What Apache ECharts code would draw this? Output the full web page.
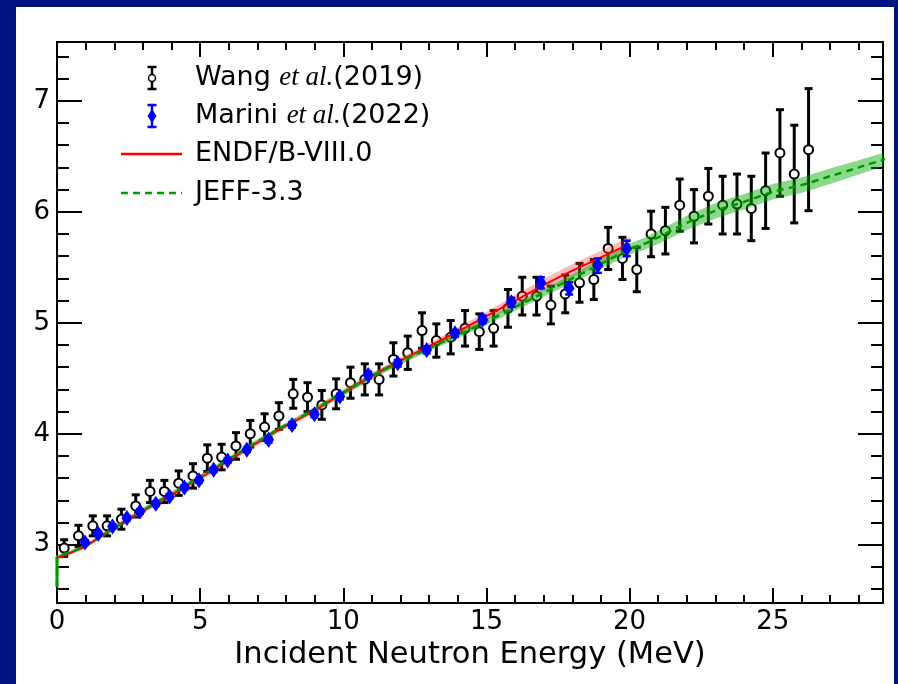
<!DOCTYPE html>
<html><head><meta charset="utf-8">
<script src="https://cdn.jsdelivr.net/npm/echarts@6/dist/echarts.min.js"></script>
<style>html,body{margin:0;padding:0;background:#00127f}#c{width:898px;height:684px}</style>
</head><body><div id="c"></div>
<script>
// ---- Data ----
var wangE = [0.25,0.75,1.25,1.75,2.25,2.75,3.25,3.75,4.25,4.75,5.25,5.75,6.25,6.75,7.25,7.75,8.25,8.75,9.25,9.75,10.25,10.75,11.25,11.75,12.25,12.75,13.25,13.75,14.25,14.75,15.25,15.75,16.25,16.75,17.25,17.75,18.25,18.75,19.25,19.75,20.25,20.75,21.25,21.75,22.25,22.75,23.25,23.75,24.25,24.75,25.25,25.75,26.25];
var wangV = [2.97,3.08,3.17,3.17,3.23,3.35,3.48,3.48,3.555,3.62,3.78,3.79,3.89,4.00,4.06,4.16,4.36,4.33,4.26,4.36,4.46,4.49,4.49,4.67,4.73,4.93,4.84,4.87,4.95,4.92,4.95,5.13,5.24,5.24,5.16,5.26,5.36,5.39,5.67,5.58,5.48,5.80,5.83,6.06,5.96,6.14,6.06,6.07,6.03,6.19,6.53,6.34,6.56];
var wangErr = [0.075,0.095,0.09,0.09,0.09,0.10,0.10,0.10,0.11,0.11,0.12,0.115,0.12,0.12,0.12,0.12,0.13,0.13,0.13,0.135,0.14,0.14,0.14,0.15,0.15,0.16,0.15,0.15,0.16,0.16,0.16,0.17,0.17,0.17,0.17,0.17,0.175,0.18,0.19,0.19,0.20,0.205,0.21,0.235,0.24,0.25,0.26,0.27,0.29,0.34,0.39,0.44,0.55];

var mariniE = [0.98,1.44,1.94,2.44,2.90,3.45,3.93,4.45,4.96,5.47,5.96,6.63,7.39,8.21,8.99,9.88,10.87,11.90,12.91,13.90,14.87,15.87,16.90,17.89,18.89,19.90];
var mariniV = [3.02,3.10,3.165,3.24,3.30,3.37,3.435,3.515,3.58,3.675,3.76,3.855,3.945,4.08,4.175,4.335,4.53,4.635,4.755,4.905,5.03,5.185,5.36,5.31,5.515,5.67];
var mariniErr = [0.02,0.02,0.02,0.02,0.02,0.02,0.02,0.02,0.02,0.02,0.02,0.02,0.025,0.025,0.025,0.025,0.03,0.03,0.03,0.03,0.035,0.04,0.05,0.055,0.065,0.07];

var endfE = [0,0.5,1,1.5,2,2.5,3,4,5,6,7,8,9,10,11,12,13,14,15,16,17,18,19,20];
var endfV = [2.88,2.93,2.985,3.07,3.15,3.23,3.305,3.45,3.60,3.76,3.92,4.07,4.21,4.37,4.52,4.66,4.79,4.92,5.06,5.20,5.34,5.47,5.59,5.71];
var endfUnc = [0.02,0.02,0.02,0.02,0.02,0.02,0.025,0.025,0.025,0.025,0.025,0.025,0.025,0.03,0.03,0.03,0.03,0.035,0.04,0.05,0.055,0.06,0.06,0.065];

var jeffE = [0,0,0.5,1,1.5,2,2.5,3,4,5,6,7,8,9,10,11,12,13,14,15,16,17,18,19,20,20.5,21,22,23,24,25,26,27,28,29];
var jeffV = [2.62,2.89,2.935,2.99,3.07,3.15,3.23,3.31,3.46,3.61,3.77,3.93,4.08,4.22,4.37,4.52,4.65,4.77,4.89,5.01,5.14,5.27,5.40,5.53,5.665,5.71,5.77,5.90,6.01,6.09,6.18,6.24,6.32,6.40,6.48];
var jeffUnc = [0,0.015,0.015,0.015,0.015,0.02,0.02,0.02,0.02,0.02,0.02,0.02,0.02,0.02,0.025,0.025,0.025,0.025,0.03,0.03,0.035,0.035,0.04,0.045,0.05,0.055,0.06,0.065,0.07,0.07,0.07,0.07,0.07,0.065,0.06];

var xMajorTicks = [0,5,10,15,20,25];
var xMinorTicks = [1,2,3,4,6,7,8,9,11,12,13,14,16,17,18,19,21,22,23,24,26,27,28];
var yMajorTicks = [3,4,5,6,7];
var yMinorTicks = [2.6,2.8,3.2,3.4,3.6,3.8,4.2,4.4,4.6,4.8,5.2,5.4,5.6,5.8,6.2,6.4,6.6,6.8,7.2,7.4];

var xTitle = 'Incident Neutron Energy (MeV)';
var legendNames = ['Wang', 'et al.', '(2019)', 'Marini', 'et al.', '(2022)', 'ENDF/B-VIII.0', 'JEFF-3.3'];

// ---- Chart ----
var X_MIN = 0, X_MAX = 28.85, Y_MIN = 2.475, Y_MAX = 7.53;
var SANS = 'DejaVu Sans';
var chart = echarts.init(document.getElementById('c'), null, {renderer: 'canvas'});

function xAx(pos, vals, len, labels, name) {
  var a = {
    type: 'value', position: pos, min: X_MIN, max: X_MAX, gridIndex: 0,
    axisLine: {show: true, onZero: false, lineStyle: {color: '#000', width: 2}},
    axisTick: {show: true, inside: true, length: len, customValues: vals, lineStyle: {color: '#000', width: 2}},
    axisLabel: {show: labels, customValues: vals, color: '#000', fontFamily: SANS, fontSize: 26, margin: 6},
    splitLine: {show: false}
  };
  if (name) {
    a.name = name; a.nameLocation = 'middle'; a.nameGap = 36;
    a.nameTextStyle = {color: '#000', fontFamily: SANS, fontSize: 30.5};
  }
  return a;
}
function yAx(pos, vals, len, labels) {
  return {
    type: 'value', position: pos, min: Y_MIN, max: Y_MAX, gridIndex: 0,
    axisLine: {show: true, onZero: false, lineStyle: {color: '#000', width: 2}},
    axisTick: {show: true, inside: true, length: len, customValues: vals, lineStyle: {color: '#000', width: 2}},
    axisLabel: {show: labels, customValues: vals, color: '#000', fontFamily: SANS, fontSize: 26, margin: 7},
    splitLine: {show: false}
  };
}

function errSeries(E, V, Err, color, lw, capW, z) {
  var data = E.map(function (e, i) { return [e, V[i], Err[i]]; });
  return {
    type: 'custom', data: data, z: z, silent: true,
    renderItem: function (params, api) {
      var x = api.value(0), y = api.value(1), e = api.value(2);
      var t = api.coord([x, y + e]), b = api.coord([x, y - e]);
      var st = {stroke: color, lineWidth: lw};
      return {type: 'group', children: [
        {type: 'line', shape: {x1: t[0], y1: t[1], x2: b[0], y2: b[1]}, style: st},
        {type: 'line', shape: {x1: t[0] - capW / 2, y1: t[1], x2: t[0] + capW / 2, y2: t[1]}, style: st},
        {type: 'line', shape: {x1: b[0] - capW / 2, y1: b[1], x2: b[0] + capW / 2, y2: b[1]}, style: st}
      ]};
    }
  };
}
function bandSeries(E, V, U, color, z) {
  var data = E.map(function (e, i) { return [e, V[i], U[i]]; });
  return {
    type: 'custom', data: data, z: z, silent: true,
    renderItem: function (params, api) {
      if (params.dataIndex !== 0) return;
      var up = [], lo = [];
      for (var i = 0; i < data.length; i++) {
        up.push(api.coord([data[i][0], data[i][1] + data[i][2]]));
        lo.push(api.coord([data[i][0], data[i][1] - data[i][2]]));
      }
      var cs = params.coordSys;
      return {type: 'group',
        clipPath: {type: 'rect', shape: {x: cs.x, y: cs.y, width: cs.width, height: cs.height}},
        children: [{type: 'polygon', shape: {points: up.concat(lo.reverse())}, style: {fill: color}}]};
    }
  };
}

var pairs = function (E, V) { return E.map(function (e, i) { return [e, V[i]]; }); };

var legendX = 152, textX = 195, rows = [78, 116, 154, 193];
var LFS = 27;
var rich = {
  n: {fontFamily: SANS, fontSize: LFS, color: '#000'},
  i: {fontFamily: 'Liberation Serif', fontStyle: 'italic', fontSize: LFS, color: '#000'}
};
function capBar(x, y, h, w, color, lw) {
  return [
    {type: 'line', shape: {x1: x, y1: y - h, x2: x, y2: y + h}, style: {stroke: color, lineWidth: lw}},
    {type: 'line', shape: {x1: x - w / 2, y1: y - h, x2: x + w / 2, y2: y - h}, style: {stroke: color, lineWidth: lw}},
    {type: 'line', shape: {x1: x - w / 2, y1: y + h, x2: x + w / 2, y2: y + h}, style: {stroke: color, lineWidth: lw}}
  ];
}
var legendEls = [].concat(
  capBar(legendX, rows[0], 11, 9, '#000', 2.5),
  [{type: 'circle', shape: {cx: legendX, cy: rows[0], r: 3.5}, style: {fill: '#fff', stroke: '#000', lineWidth: 1.5}}],
  capBar(legendX, rows[1], 11, 9, '#0000ff', 2.5),
  [{type: 'polygon', shape: {points: [[legendX, rows[1] - 7], [legendX + 4.5, rows[1]], [legendX, rows[1] + 7], [legendX - 4.5, rows[1]]]}, style: {fill: '#0000ff'}},
   {type: 'line', shape: {x1: 121, y1: rows[2], x2: 182, y2: rows[2]}, style: {stroke: '#ff0000', lineWidth: 2.5}},
   {type: 'line', shape: {x1: 121, y1: rows[3], x2: 182, y2: rows[3]}, style: {stroke: '#009900', lineWidth: 2.5, lineDash: [7, 5]}},
   {type: 'text', x: textX, y: rows[0], style: {text: '{n|' + legendNames[0] + ' }{i|' + legendNames[1] + '}{n|' + legendNames[2] + '}', rich: rich, verticalAlign: 'middle'}},
   {type: 'text', x: textX, y: rows[1], style: {text: '{n|' + legendNames[3] + ' }{i|' + legendNames[4] + '}{n|' + legendNames[5] + '}', rich: rich, verticalAlign: 'middle'}},
   {type: 'text', x: textX, y: rows[2], style: {text: legendNames[6], font: LFS + 'px "DejaVu Sans"', fill: '#000', verticalAlign: 'middle'}},
   {type: 'text', x: textX, y: rows[3], style: {text: legendNames[7], font: LFS + 'px "DejaVu Sans"', fill: '#000', verticalAlign: 'middle'}}]
);
legendEls.forEach(function (el) { el.z = 100; });

var option = {
  animation: false,
  backgroundColor: '#00127f',
  grid: {left: 57, right: 15, top: 42, bottom: 81, containLabel: false},
  graphic: [
    {type: 'rect', z: -10, silent: true, shape: {x: 16, y: 7, width: 878, height: 700}, style: {fill: '#ffffff'}},
    {type: 'group', children: legendEls}
  ],
  xAxis: [
    xAx('bottom', xMajorTicks, 15, true, xTitle),
    xAx('bottom', xMinorTicks, 8, false),
    xAx('top', xMajorTicks, 15, false),
    xAx('top', xMinorTicks, 8, false)
  ],
  yAxis: [
    yAx('left', yMajorTicks, 25, true),
    yAx('left', yMinorTicks, 12, false),
    yAx('right', yMajorTicks, 25, false),
    yAx('right', yMinorTicks, 12, false)
  ],
  series: [
    errSeries(wangE, wangV, wangErr, '#000', 3, 8, 2),
    {type: 'scatter', z: 3, data: pairs(wangE, wangV), symbol: 'circle', symbolSize: 9,
     itemStyle: {color: '#fff', borderColor: '#000', borderWidth: 2, opacity: 1}},
    bandSeries(endfE, endfV, endfUnc, 'rgba(255,60,60,0.35)', 4),
    bandSeries(jeffE, jeffV, jeffUnc, 'rgba(0,170,0,0.45)', 4),
    {type: 'line', z: 5, data: pairs(endfE, endfV), showSymbol: false, smooth: 0.2,
     lineStyle: {color: '#ff0000', width: 2}},
    {type: 'line', z: 5, data: pairs(jeffE, jeffV), showSymbol: false, smooth: 0.2,
     lineStyle: {color: '#009900', width: 2.5, type: [7, 5]}},
    {type: 'line', z: 5, data: pairs(jeffE.slice(0, 2), jeffV.slice(0, 2)), showSymbol: false,
     lineStyle: {color: '#009900', width: 3}},
    errSeries(mariniE, mariniV, mariniErr, '#0000ff', 2.5, 8, 6),
    {type: 'scatter', z: 7, data: pairs(mariniE, mariniV), symbol: 'diamond', symbolSize: [11, 16],
     itemStyle: {color: '#0000ff', opacity: 1}}
  ]
};
chart.setOption(option);
</script></body></html>
